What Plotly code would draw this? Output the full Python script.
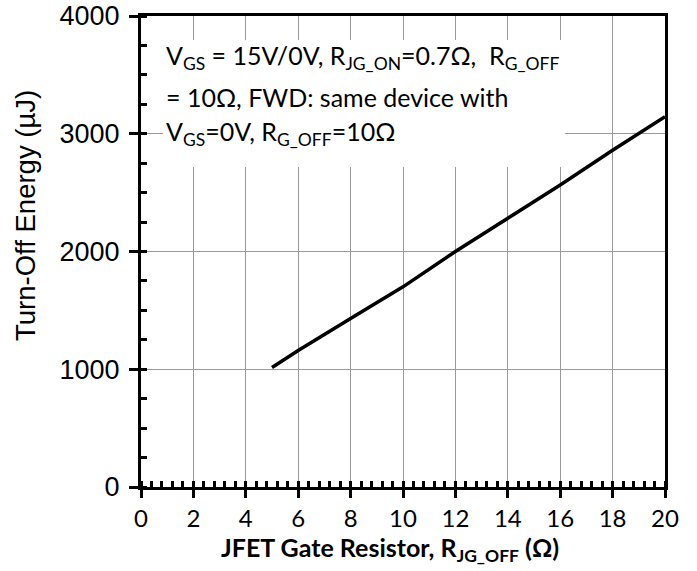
import plotly.graph_objects as go

# Data
r_jg_off = [5, 6, 8, 10, 12, 14, 16, 18, 20]
e_off = [1015, 1160, 1430, 1700, 2000, 2280, 2565, 2860, 3145]

x_ticks = [0, 2, 4, 6, 8, 10, 12, 14, 16, 18, 20]
y_ticks = [0, 1000, 2000, 3000, 4000]

note_lines = [
    "V<sub>GS</sub> = 15V/0V, R<sub>JG_ON</sub>=0.7Ω,  R<sub>G_OFF</sub>",
    "= 10Ω, FWD: same device with",
    "V<sub>GS</sub>=0V, R<sub>G_OFF</sub>=10Ω",
]
note_y = [3650, 3315, 3010]

fig = go.Figure()
fig.add_trace(go.Scatter(x=r_jg_off, y=e_off, mode="lines",
                         line=dict(color="black", width=3.5),
                         showlegend=False, hoverinfo="skip"))

fig.update_layout(
    width=697, height=571,
    margin=dict(l=141, r=32, t=16, b=84, autoexpand=False),
    paper_bgcolor="white", plot_bgcolor="white",
    font=dict(family="Lato", color="black"),
)

fig.update_xaxes(
    range=[0, 20], tickvals=x_ticks, ticktext=[str(v) for v in x_ticks],
    showline=True, linecolor="black", linewidth=3, mirror=True,
    ticks="outside", ticklen=8, tickwidth=3, tickcolor="black",
    showgrid=True, gridcolor="#999999", gridwidth=1.2, zeroline=False,
    tickfont=dict(family="Lato", size=24, color="black"),
    automargin=False,
    minor=dict(dtick=0.4, tick0=0, ticks="inside", ticklen=6, tickwidth=2.5,
               tickcolor="black", showgrid=False),
)
fig.update_yaxes(
    range=[0, 4000], tickvals=y_ticks, ticktext=[str(v) for v in y_ticks],
    showline=True, linecolor="black", linewidth=3, mirror=True,
    ticks="outside", ticklen=9, tickwidth=3, tickcolor="black",
    showgrid=True, gridcolor="#999999", gridwidth=1.2, zeroline=False,
    tickfont=dict(family="Liberation Sans", size=27, color="black"),
    ticklabelstandoff=4, automargin=False,
    minor=dict(dtick=250, tick0=0, ticks="inside", ticklen=6, tickwidth=2.5,
               tickcolor="black", showgrid=False),
)

# white box behind note
fig.add_shape(type="rect", xref="x", yref="y", x0=0.84, x1=16.18, y0=2718, y1=3796,
              fillcolor="white", line=dict(width=0), layer="between")

for txt, yv in zip(note_lines, note_y):
    fig.add_annotation(x=0.88, y=yv, xref="x", yref="y", text=txt, showarrow=False,
                       xanchor="left", yanchor="middle",
                       font=dict(family="Lato", size=25, color="black"))

# axis titles
fig.add_annotation(x=(390 - 141) / 524, y=-(549 - 487) / 471, xref="paper", yref="paper",
                   text="<b>JFET Gate Resistor, R<sub>JG_OFF</sub> (Ω)</b>", showarrow=False,
                   xanchor="center", yanchor="middle",
                   font=dict(family="Lato", size=25, color="black"))
fig.add_annotation(x=-(141 - 25) / 524, y=(487 - 216) / 471, xref="paper", yref="paper",
                   text="Turn-Off Energy (µJ)", showarrow=False, textangle=-90,
                   xanchor="center", yanchor="middle",
                   font=dict(family="Liberation Sans", size=27.5, color="black"))

fig.write_html("out.html", config={"displayModeBar": False},
               post_script="document.body.style.margin='0px';")
